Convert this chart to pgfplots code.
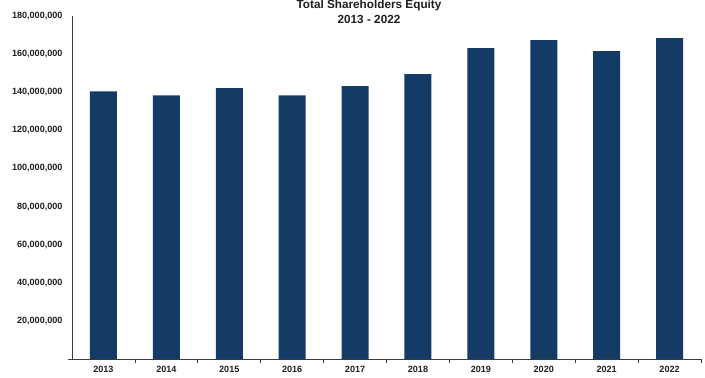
\documentclass[border=0pt]{standalone}
\usepackage{pgfplots}
\pgfplotsset{compat=1.18}
\usepackage{fontspec}
\setmainfont{Liberation Sans}
\definecolor{barblue}{RGB}{20,59,101}
\definecolor{axgray}{RGB}{60,60,60}
\definecolor{txt}{RGB}{30,30,30}
\begin{document}
\begin{tikzpicture}[x=1bp,y=1bp]
\path[use as bounding box] (0,0) rectangle (705,377);
\begin{axis}[
  at={(72bp,18bp)}, anchor=south west,
  scale only axis, width=629bp, height=343bp,
  xmin=-0.5, xmax=9.5, ymin=0, ymax=180000000,
  axis x line*=bottom, axis y line*=left,
  axis line style={axgray, line width=0.9pt},
  xtick={0,...,9},
  xticklabels={2013,2014,2015,2016,2017,2018,2019,2020,2021,2022},
  minor xtick={0.5,1.5,...,9.5},
  ytick={20000000,40000000,60000000,80000000,100000000,120000000,140000000,160000000,180000000},
  extra y ticks={0}, extra y tick labels={},
  extra y tick style={major tick length=4bp},
  major tick length=0pt, minor tick length=3.5bp,
  tick align=outside,
  tick style={axgray, line width=0.8pt},
  scaled y ticks=false,
  /pgf/number format/.cd, fixed, precision=0, 1000 sep={,}, assume math mode=true,
  /pgfplots/.cd,
  tick label style={font=\bfseries\fontsize{9.1}{10}\selectfont, text=txt},
  yticklabel style={xshift=-6bp},
  xticklabel style={yshift=-4bp},
]
\addplot[ybar, bar width=27bp, fill=barblue, draw=none] coordinates {
(0,140500000) (1,138400000) (2,142100000) (3,138400000) (4,143200000)
(5,149500000) (6,163200000) (7,167400000) (8,161600000) (9,168400000)};
\end{axis}
\node[anchor=base, font=\bfseries\fontsize{11.8}{14}\selectfont, text=txt] at (369,368.5) {Total Shareholders Equity};
\node[anchor=base, font=\bfseries\fontsize{11.8}{14}\selectfont, text=txt] at (369,353.5) {2013 - 2022};
\end{tikzpicture}
\end{document}
